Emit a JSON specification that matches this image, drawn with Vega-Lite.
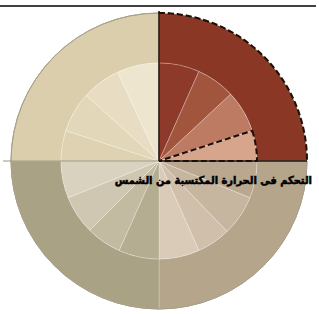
{
  "$schema": "https://vega.github.io/schema/vega-lite/v6.json",
  "width": 300,
  "height": 300,
  "autosize": {"type": "none"},
  "padding": {"left": 9, "top": 11, "right": 10, "bottom": 3},
  "background": "#ffffff",
  "config": {"view": {"stroke": null}},
  "datasets": {
    "segs": [
      {"k": "tr_o", "a0": 0, "a1": 90, "r0": 98, "r1": 148},
      {"k": "tr1", "a0": 0, "a1": 24, "r0": 0, "r1": 98},
      {"k": "tr2", "a0": 24, "a1": 47, "r0": 0, "r1": 98},
      {"k": "tr3", "a0": 47, "a1": 72, "r0": 0, "r1": 98},
      {"k": "tr4", "a0": 72, "a1": 90, "r0": 0, "r1": 98},
      {"k": "br_o", "a0": 90, "a1": 180, "r0": 98, "r1": 148},
      {"k": "br4", "a0": 90, "a1": 112, "r0": 0, "r1": 98},
      {"k": "br3", "a0": 112, "a1": 136, "r0": 0, "r1": 98},
      {"k": "br2", "a0": 136, "a1": 156, "r0": 0, "r1": 98},
      {"k": "br1", "a0": 156, "a1": 180, "r0": 0, "r1": 98},
      {"k": "bl_o", "a0": 180, "a1": 270, "r0": 98, "r1": 148},
      {"k": "bl4", "a0": 180, "a1": 204, "r0": 0, "r1": 98},
      {"k": "bl3", "a0": 204, "a1": 225, "r0": 0, "r1": 98},
      {"k": "bl2", "a0": 225, "a1": 248, "r0": 0, "r1": 98},
      {"k": "bl1", "a0": 248, "a1": 270, "r0": 0, "r1": 98},
      {"k": "tl_o", "a0": 270, "a1": 360, "r0": 98, "r1": 148},
      {"k": "tl4", "a0": 270, "a1": 288, "r0": 0, "r1": 98},
      {"k": "tl3", "a0": 288, "a1": 312, "r0": 0, "r1": 98},
      {"k": "tl2", "a0": 312, "a1": 335, "r0": 0, "r1": 98},
      {"k": "tl1", "a0": 335, "a1": 360, "r0": 0, "r1": 98}
    ]
  },
  "layer": [
    {
      "data": {"name": "segs"},
      "mark": {"type": "arc", "stroke": "#ffffff", "strokeOpacity": 0.3, "strokeWidth": 0.8},
      "encoding": {
        "theta": {"field": "a0", "type": "quantitative", "stack": false, "scale": {"domain": [0, 360], "range": [0, 6.283185307]}},
        "theta2": {"field": "a1"},
        "radius": {"field": "r0", "type": "quantitative", "scale": {"type": "linear", "domain": [0, 148], "range": [0, 148], "zero": true, "nice": false}},
        "radius2": {"field": "r1"},
        "color": {
          "field": "k", "type": "nominal", "legend": null,
          "scale": {
            "domain": ["tr_o", "tr1", "tr2", "tr3", "tr4", "br_o", "br1", "br2", "br3", "br4", "bl_o", "bl1", "bl2", "bl3", "bl4", "tl_o", "tl1", "tl2", "tl3", "tl4"],
            "range": ["#8A3726", "#8E3A2A", "#A2553D", "#BC7B62", "#D6A58C", "#B5A58B", "#DACBB8", "#D0C0AB", "#C6B59F", "#B9A88F", "#AAA285", "#D9D2BF", "#CFC7B1", "#C3BBA1", "#B5AD92", "#DBCEAC", "#EEE5CF", "#E8DDC3", "#E3D7BA", "#DED2B3"]
          }
        }
      }
    },
    {
      "data": {"values": [{"a0": 90, "a1": 360, "r": 148}]},
      "mark": {"type": "arc", "filled": false, "stroke": "#A9A08A", "strokeWidth": 1},
      "encoding": {
        "theta": {"field": "a0", "type": "quantitative", "stack": false, "scale": {"domain": [0, 360], "range": [0, 6.283185307]}},
        "theta2": {"field": "a1"},
        "radius": {"field": "r", "type": "quantitative", "scale": {"type": "linear", "domain": [0, 148], "range": [0, 148], "zero": true, "nice": false}},
        "radius2": {"field": "r"}
      }
    },
    {
      "data": {"values": [{"x1": -156, "x2": 0, "y1": 0, "y2": 0}]},
      "mark": {"type": "rule", "stroke": "#9C9480", "strokeWidth": 1},
      "encoding": {
        "x": {"field": "x1", "type": "quantitative", "axis": null, "scale": {"domain": [-150, 150], "nice": false, "zero": false}},
        "x2": {"field": "x2"},
        "y": {"field": "y1", "type": "quantitative", "axis": null, "scale": {"domain": [-150, 150], "nice": false, "zero": false}},
        "y2": {"field": "y2"}
      }
    },
    {
      "data": {"values": [{"x1": 0, "x2": 148, "y1": 0, "y2": 0}, {"x1": 0, "x2": 0, "y1": 0, "y2": 150}]},
      "mark": {"type": "rule", "stroke": "#1E1410", "strokeWidth": 1.6},
      "encoding": {
        "x": {"field": "x1", "type": "quantitative", "axis": null, "scale": {"domain": [-150, 150], "nice": false, "zero": false}},
        "x2": {"field": "x2"},
        "y": {"field": "y1", "type": "quantitative", "axis": null, "scale": {"domain": [-150, 150], "nice": false, "zero": false}},
        "y2": {"field": "y2"}
      }
    },
    {
      "data": {"values": [{"x1": -159, "x2": 157, "y1": 155, "y2": 155}]},
      "mark": {"type": "rule", "stroke": "#000000", "strokeWidth": 1.5},
      "encoding": {
        "x": {"field": "x1", "type": "quantitative", "axis": null, "scale": {"domain": [-150, 150], "nice": false, "zero": false}},
        "x2": {"field": "x2"},
        "y": {"field": "y1", "type": "quantitative", "axis": null, "scale": {"domain": [-150, 150], "nice": false, "zero": false}},
        "y2": {"field": "y2"}
      }
    },
    {
      "data": {"values": [{"a0": 0, "a1": 90, "r0": 148, "r1": 148}, {"a0": 72, "a1": 90, "r0": 0, "r1": 98}]},
      "mark": {"type": "arc", "filled": false, "stroke": "#1A1008", "strokeWidth": 2, "strokeDash": [6, 3]},
      "encoding": {
        "theta": {"field": "a0", "type": "quantitative", "stack": false, "scale": {"domain": [0, 360], "range": [0, 6.283185307]}},
        "theta2": {"field": "a1"},
        "radius": {"field": "r0", "type": "quantitative", "scale": {"type": "linear", "domain": [0, 148], "range": [0, 148], "zero": true, "nice": false}},
        "radius2": {"field": "r1"}
      }
    },
    {
      "data": {"values": [{"x": 153, "y": -20, "label": "التحكم فى الحرارة المكتسبة من الشمس"}]},
      "mark": {"type": "text", "align": "right", "baseline": "middle", "font": "DejaVu Sans Condensed, DejaVu Sans", "fontWeight": "bold", "fontSize": 11, "color": "#000000", "stroke": "#000000", "strokeWidth": 0.5},
      "encoding": {
        "x": {"field": "x", "type": "quantitative", "axis": null, "scale": {"domain": [-150, 150], "nice": false, "zero": false}},
        "y": {"field": "y", "type": "quantitative", "axis": null, "scale": {"domain": [-150, 150], "nice": false, "zero": false}},
        "text": {"field": "label"}
      }
    }
  ]
}
